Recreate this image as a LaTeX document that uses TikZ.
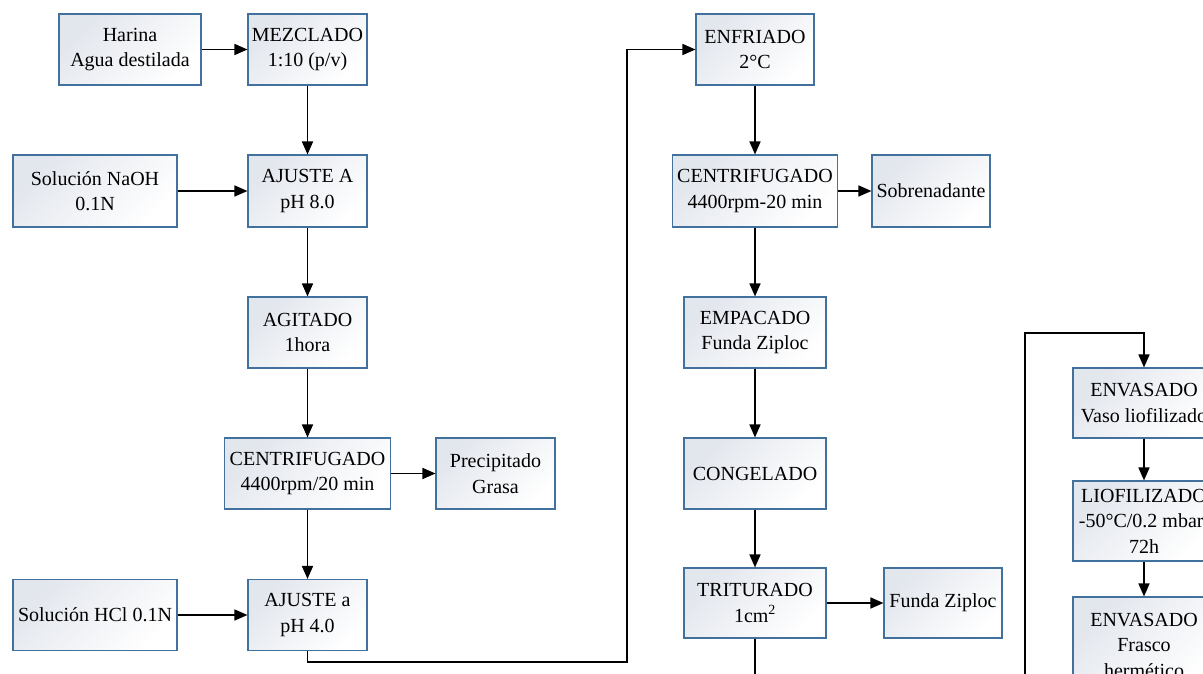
\documentclass[tikz,border=0pt]{standalone}
\usepackage{fontspec}
\setmainfont{Liberation Serif}
\usetikzlibrary{arrows.meta}
\definecolor{cajaborde}{HTML}{41719C}
\definecolor{cajafondo}{HTML}{E2E6ED}

\begin{document}
\begin{tikzpicture}[x=1pt, y=-1pt,
    caja/.style={draw=cajaborde, line width=1.1pt, top color=cajafondo,
        bottom color=white, shading angle=45, align=center, inner sep=3pt,
        minimum height=71pt, font=\fontsize{20}{25.5}\selectfont},
    flecha/.style={line width=1.6pt, -{Triangle[length=13pt,width=11pt]}}]
    \useasboundingbox (0,0) rectangle (1203,673);
    \clip (0,0) rectangle (1203,673);

    % primera columna
    \node[caja, minimum width=142pt] (harina) at (130,49.5) {Harina\\Agua destilada};
    \node[caja, minimum width=119pt] (mez) at (307.5,49.5) {MEZCLADO\\1:10 (p/v)};
    \node[caja, minimum width=164pt, minimum height=72pt] (naoh) at (95,191) {Solución NaOH\\0.1N};
    \node[caja, minimum width=119pt, minimum height=72pt] (ajusA) at (307.5,191) {AJUSTE A\\pH 8.0};
    \node[caja, minimum width=119pt] (agit) at (307.5,332.5) {AGITADO\\1hora};
    \node[caja, minimum width=166pt] (centA) at (307.5,473.5) {CENTRIFUGADO\\4400rpm/20 min};
    \node[caja, minimum width=119pt] (precip) at (495.5,473.5) {Precipitado\\Grasa};
    \node[caja, minimum width=164pt] (hcl) at (95,615) {Solución HCl 0.1N};
    \node[caja, minimum width=119pt] (ajusB) at (307.5,615) {AJUSTE a\\pH 4.0};

    % segunda columna
    \node[caja, minimum width=118pt] (enfr) at (755,49.5) {ENFRIADO\\2°C};
    \node[caja, minimum width=165pt, minimum height=72pt] (centB) at (755,191) {CENTRIFUGADO\\4400rpm-20 min};
    \node[caja, minimum width=118pt, minimum height=72pt] (sobre) at (931,191) {Sobrenadante};
    \node[caja, minimum width=142pt] (empac) at (755,332.5) {EMPACADO\\Funda Ziploc};
    \node[caja, minimum width=142pt] (cong) at (755,473.5) {CONGELADO};
    \node[caja, minimum width=142pt, minimum height=70pt] (trit) at (755,603) {TRITURADO\\1cm\textsuperscript{2}};
    \node[caja, minimum width=118pt, minimum height=70pt] (funda) at (943,603) {Funda Ziploc};

    % tercera columna
    \node[caja, minimum width=142pt, minimum height=70pt] (envA) at (1144,403) {ENVASADO\\Vaso liofilizado};
    \node[caja, minimum width=142pt, minimum height=80pt] (liof) at (1144,521) {LIOFILIZADO\\-50°C/0.2 mbar/\\72h};
    \node[caja, minimum width=142pt, minimum height=96pt] (envB) at (1144,645) {ENVASADO\\Frasco\\hermético};

    \coordinate (codoA) at (627,662);
    \coordinate (codoB) at (1025,700);
    \coordinate (codoC) at (1025,333);

    \draw[flecha] (harina) -- (mez);
    \draw[flecha] (mez) -- (ajusA);
    \draw[flecha] (naoh) -- (ajusA);
    \draw[flecha] (ajusA) -- (agit);
    \draw[flecha] (agit) -- (centA);
    \draw[flecha] (centA) -- (precip);
    \draw[flecha] (centA) -- (ajusB);
    \draw[flecha] (hcl) -- (ajusB);
    \draw[flecha] (ajusB.south) |- (codoA) |- (enfr.west);

    \draw[flecha] (enfr) -- (centB);
    \draw[flecha] (centB) -- (sobre);
    \draw[flecha] (centB) -- (empac);
    \draw[flecha] (empac) -- (cong);
    \draw[flecha] (cong) -- (trit);
    \draw[flecha] (trit) -- (funda);
    \draw[flecha] (trit.south) |- (codoB) -- (codoC) -| (envA.north);

    \draw[flecha] (envA) -- (liof);
    \draw[flecha] (liof) -- (envB);
\end{tikzpicture}
\end{document}
